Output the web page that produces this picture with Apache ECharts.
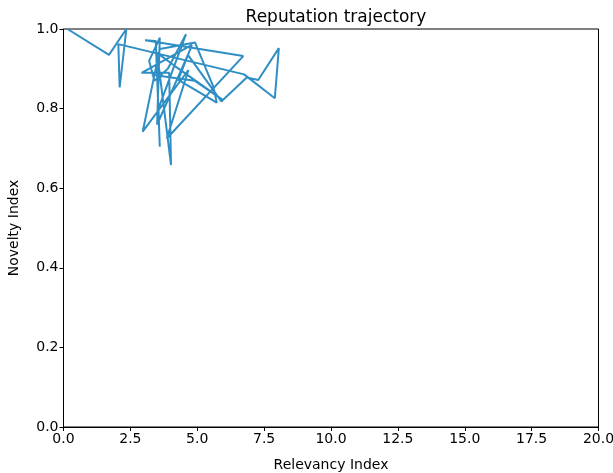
<!DOCTYPE html>
<html>
<head>
<meta charset="utf-8">
<script src="https://cdn.jsdelivr.net/npm/echarts@6/dist/echarts.min.js"></script>
<style>
  html, body { margin: 0; padding: 0; background: #fff; }
  #chart { width: 613px; height: 473px; }
</style>
</head>
<body>
<div id="chart"></div>
<script>
// trajectory (relevancy, novelty)
const relevancy = [0.15, 1.7, 2.35, 2.1, 2.05, 6.75, 7.9, 8.05, 7.28, 6.85, 5.9, 4.65, 3.5, 3.6, 3.2, 3.4, 3.9, 4.58, 3.55, 3.6,
                   3.45, 3.05, 6.72, 3.86, 4.67, 2.96, 3.6, 4.92, 5.6, 5.73, 4.29, 4.8, 2.92, 3.95, 4.02, 3.5, 4.1, 5.95, 4.9, 3.3];
const novelty = [1.0, 0.935, 1.0, 0.853, 0.962, 0.886, 0.826, 0.952, 0.872, 0.878, 0.818, 0.935, 0.76, 0.978, 0.92, 0.87, 0.9, 0.987, 0.8, 0.704,
                 0.97, 0.972, 0.932, 0.725, 0.897, 0.742, 0.95, 0.966, 0.855, 0.815, 0.872, 0.96, 0.89, 0.89, 0.658, 0.94, 0.91, 0.822, 0.87, 0.885];
const xTicks = [0, 20, 2.5];
const yTicks = [0, 1, 0.2];

const chart = echarts.init(document.getElementById('chart'));
const font = 'DejaVu Sans';

const options = {
    animation: false,
    title: {
        text: 'Reputation trajectory',
        left: 331,
        textAlign: 'center',
        top: 4,
        textStyle: { fontFamily: font, fontSize: 17, fontWeight: 'normal', color: '#000' },
    },
    grid: {
        left: 63.5, right: 14.5, top: 29, bottom: 46,
        outerBoundsMode: 'none',
        containLabel: false,
        show: true, borderColor: '#000', borderWidth: 1,
    },
    xAxis: {
        type: 'value',
        min: xTicks[0], max: xTicks[1], interval: xTicks[2],
        name: 'Relevancy Index',
        nameLocation: 'middle',
        nameGap: 31,
        nameTextStyle: { fontFamily: font, fontSize: 14, color: '#000' },
        axisLine: { show: true, lineStyle: { color: '#000' } },
        axisTick: { show: true, length: 4, lineStyle: { color: '#000' } },
        axisLabel: { fontFamily: font, fontSize: 14, color: '#000', margin: 5, formatter: (v) => v.toFixed(1) },
        splitLine: { show: false },
    },
    yAxis: {
        type: 'value',
        min: yTicks[0], max: yTicks[1], interval: yTicks[2],
        name: 'Novelty Index',
        nameLocation: 'middle',
        nameGap: 42,
        nameTextStyle: { fontFamily: font, fontSize: 14, color: '#000' },
        axisLine: { show: true, lineStyle: { color: '#000' } },
        axisTick: { show: true, length: 4, lineStyle: { color: '#000' } },
        axisLabel: { fontFamily: font, fontSize: 14, color: '#000', margin: 5, formatter: (v) => v.toFixed(1) },
        splitLine: { show: false },
    },
    series: [
        {
            type: 'line',
            data: relevancy.map((r, i) => [r, novelty[i]]),
            showSymbol: false,
            clip: true,
            lineStyle: { color: '#2f8ec4', width: 2 },
        },
    ],
};

chart.setOption(options);
</script>
</body>
</html>
